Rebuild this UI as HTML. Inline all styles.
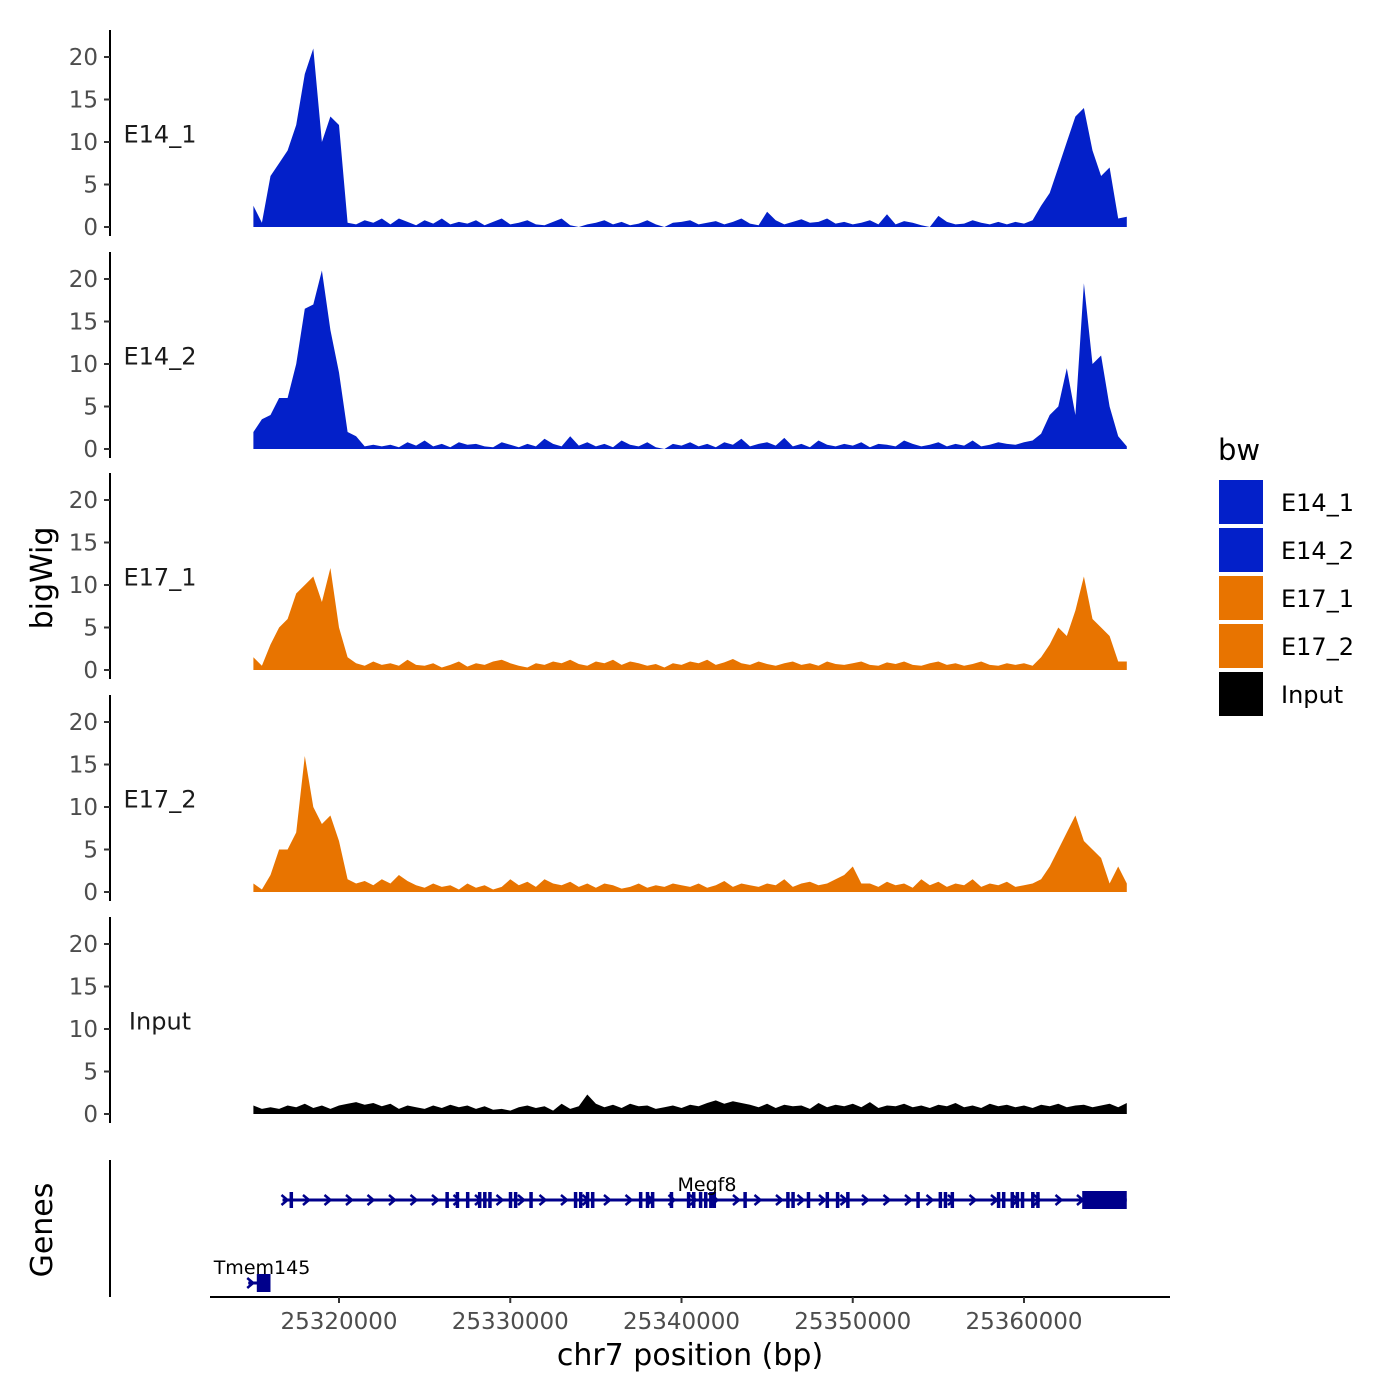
<!DOCTYPE html>
<html><head><meta charset="utf-8"><style>
body{margin:0;background:#fff}
svg{display:block;font-family:"DejaVu Sans","Liberation Sans",sans-serif}
</style></head><body>
<svg id="chart" width="1400" height="1400" viewBox="0 0 1400 1400" xmlns="http://www.w3.org/2000/svg">
<rect width="1400" height="1400" fill="#fff"/>
<g id="tracks"></g>
<g id="genes"></g>
<text x="52" y="578" font-size="30" text-anchor="middle" transform="rotate(-90 52 578)">bigWig</text>
<text x="52" y="1230" font-size="30" text-anchor="middle" transform="rotate(-90 52 1230)">Genes</text>
<text x="690" y="1365" font-size="30" text-anchor="middle">chr7 position (bp)</text>
<g id="legend">
<text x="1218" y="460" font-size="29">bw</text>
</g>
</svg>
<script>
const NS="http://www.w3.org/2000/svg";
const trackNames=["E14_1","E14_2","E17_1","E17_2","Input"];
const trackColors=["#0320C9","#0320C9","#E87400","#E87400","#000000"];
const binStartKb=25315.0;
const binSizeKb=0.5;
const yTicks=[0,5,10,15,20];
const xTicks=[25320000,25330000,25340000,25350000,25360000];
const e14_1=[2.5,0.5,6,7.5,9,12,18,21,10,13,
12,0.5,0.3,0.8,0.5,1,0.3,1,0.6,0.2,
0.8,0.4,1,0.3,0.6,0.4,0.8,0.2,0.6,1,
0.3,0.5,0.8,0.3,0.2,0.6,1,0.2,0,0.3,
0.5,0.8,0.3,0.6,0.2,0.4,0.8,0.3,0,0.5,
0.6,0.8,0.3,0.5,0.7,0.3,0.6,1,0.4,0.2,
1.8,0.8,0.3,0.6,0.9,0.5,0.6,1,0.4,0.6,
0.3,0.5,0.8,0.3,1.5,0.3,0.7,0.5,0.2,0,
1.3,0.6,0.3,0.4,0.8,0.5,0.3,0.6,0.3,0.6,
0.4,0.8,2.5,4,7,10,13,14,9,6,
7,1,1.2];
const e14_2=[2,3.5,4,6,6,10,16.5,17,21,14,
9,2,1.5,0.3,0.5,0.3,0.5,0.2,0.8,0.4,
1,0.3,0.6,0.2,0.8,0.5,0.6,0.3,0.2,0.8,
0.5,0.2,0.6,0.3,1.2,0.6,0.3,1.5,0.4,0.8,
0.3,0.6,0.2,1,0.5,0.3,0.8,0.2,0,0.6,
0.4,0.8,0.3,0.6,0.2,0.8,0.5,1.2,0.3,0.6,
0.8,0.4,1.3,0.3,0.6,0.2,1,0.5,0.3,0.6,
0.4,0.8,0.2,0.6,0.5,0.3,1,0.6,0.3,0.5,
0.8,0.3,0.6,0.4,1,0.3,0.5,0.8,0.6,0.5,
0.8,1,1.8,4,5,9.5,4,19.5,10,11,
5,1.5,0.3];
const e17_1=[1.5,0.5,3,5,6,9,10,11,8,12,
5,1.5,0.8,0.5,1,0.6,0.8,0.5,1.2,0.6,
0.5,0.8,0.3,0.6,1,0.4,0.8,0.6,1,1.2,
0.8,0.5,0.3,0.8,0.6,1,0.8,1.2,0.7,0.5,
1,0.8,1.2,0.6,1,0.8,0.5,0.7,0.3,0.8,
0.6,1,0.8,1.2,0.6,0.9,1.3,0.8,0.6,1,
0.7,0.5,0.8,1,0.6,0.8,0.5,1,0.7,0.6,
0.8,1,0.6,0.5,0.9,0.7,1,0.6,0.5,0.8,
1,0.6,0.8,0.5,0.7,1,0.6,0.5,0.8,0.6,
0.8,0.5,1.5,3,5,4,7,11,6,5,
4,1,1];
const e17_2=[1,0.3,2,5,5,7,16,10,8,9,
6,1.5,1,1.3,0.8,1.5,1,2,1.3,0.8,
0.5,1,0.6,0.8,0.3,1,0.5,0.8,0.3,0.6,
1.5,0.8,1.2,0.6,1.5,1,0.8,1.2,0.6,1,
0.5,1,0.8,0.4,0.6,1,0.5,0.8,0.6,1,
0.8,0.6,1,0.5,0.8,1.3,0.6,1,0.8,0.6,
1,0.8,1.5,0.6,1,1.2,0.8,1,1.5,2,
3,1,1,0.6,1.2,0.8,1,0.5,1.5,0.8,
1.2,0.6,1,0.8,1.5,0.6,1,0.8,1.2,0.6,
0.8,1,1.5,3,5,7,9,6,5,4,
1,3,1];
const inputTrack=[1,0.6,0.8,0.6,1,0.8,1.2,0.7,1,0.6,
1,1.2,1.4,1.1,1.3,0.9,1.2,0.6,1,0.8,
0.6,1,0.7,1.1,0.8,1,0.6,0.9,0.5,0.6,
0.4,0.8,1,0.7,0.9,0.4,1.2,0.6,0.9,2.3,
1.2,0.8,1.1,0.7,1.2,0.9,1,0.6,0.8,1,
0.7,1.1,0.9,1.3,1.6,1.2,1.5,1.3,1.1,0.8,
1.2,0.7,1.1,0.9,1,0.6,1.3,0.8,1.1,0.9,
1.2,0.8,1.4,0.7,1,0.9,1.2,0.8,1,0.7,
1.1,0.9,1.3,0.8,1,0.7,1.2,0.9,1.1,0.8,
1,0.7,1.1,0.9,1.2,0.8,1,1.1,0.8,1,
1.2,0.8,1.3];
const trackValues=[e14_1,e14_2,e17_1,e17_2,inputTrack];
// genes (kb)
const megf8Start=25316.7, megf8End=25366.0;
const megf8Exons=[25317.2,25326.3,25326.9,25327.5,25328.2,25328.5,25328.8,25330.0,25330.3,25331.2,25333.8,25334.1,25334.5,25334.8,25337.6,25338.0,25338.3,25339.4,25340.4,25340.7,25341.1,25341.4,25341.7,25341.9,25343.7,25346.2,25346.5,25347.4,25348.5,25349.1,25349.7,25353.8,25355.1,25355.4,25355.8,25358.5,25358.8,25359.3,25359.6,25359.9,25360.5,25360.8];
const megf8LastExon=[25363.4,25366.0];
const tmemStart=25314.7, tmemEnd=25316.0, tmemExon=[25315.2,25316.0];

function xs(bp){return 339+(bp-25320000)*0.017125;}
function xk(kb){return xs(kb*1000);}
const bases=[227,449,670,892,1114];
function ys(v,i){return bases[i]-v*8.5;}
function mk(tag,attrs,parent){const e=document.createElementNS(NS,tag);for(const k in attrs)e.setAttribute(k,attrs[k]);parent.appendChild(e);return e;}
const tracks=document.getElementById('tracks');
trackNames.forEach((nm,i)=>{
  const g=mk('g',{},tracks);
  
  
  const vals=trackValues[i];
  let d='M'+xk(binStartKb).toFixed(1)+','+ys(0,i);
  vals.forEach((v,j)=>{d+=' L'+xk(binStartKb+j*binSizeKb).toFixed(1)+','+ys(v,i).toFixed(1);});
  d+=' L'+xk(binStartKb+(vals.length-1)*binSizeKb).toFixed(1)+','+ys(0,i)+' Z';
  const p=mk('path',{d:d,fill:trackColors[i]},g);
  
  
  const ax=mk('line',{x1:110,x2:110,y1:bases[i]-197,y2:bases[i]+9,stroke:'#000','stroke-width':2},g);
  
  
  yTicks.forEach(t=>{
    mk('line',{x1:104,x2:110,y1:ys(t,i),y2:ys(t,i),stroke:'#333','stroke-width':2},g);
    const tx=mk('text',{x:98,y:ys(t,i)+8,'font-size':23,'text-anchor':'end',fill:'#4d4d4d'},g);
    tx.textContent=t;
    
    
  });
  const lb=mk('text',{x:160,y:ys(11,i)+9,'font-size':24,'text-anchor':'middle',fill:'#1a1a1a'},g);
  lb.textContent=nm;
  
  
});
// genes
const gg=document.getElementById('genes');
const ga=mk('line',{x1:110,x2:110,y1:1160,y2:1297,stroke:'#000','stroke-width':2},gg);


const xa=mk('line',{x1:210,x2:1170,y1:1297,y2:1297,stroke:'#000','stroke-width':2},gg);


xTicks.forEach(t=>{
  mk('line',{x1:xs(t),x2:xs(t),y1:1297,y2:1303,stroke:'#333','stroke-width':2},gg);
  const tx=mk('text',{x:xs(t),y:1329,'font-size':23,'text-anchor':'middle',fill:'#4d4d4d'},gg);
  tx.textContent=t;
  
  
});
function drawGene(name,s,e,exons,last,y,labelX,labelY){
  const g=mk('g',{},gg);
  
  
  mk('line',{x1:xk(s),x2:xk(e),y1:y,y2:y,stroke:'#00008B','stroke-width':3},g);
  for(let x=xk(s)+2;x<xk(e)-6;x+=21.5){
    mk('path',{d:`M${x-3},${y-5} L${x+3},${y} L${x-3},${y+5}`,fill:'none',stroke:'#00008B','stroke-width':2.5},g);
  }
  exons.forEach(ex=>{mk('rect',{x:xk(ex)-1.5,y:y-8,width:3.5,height:16,fill:'#00008B'},g);});
  if(last) mk('rect',{x:xk(last[0]),y:y-9,width:xk(last[1])-xk(last[0]),height:18,fill:'#00008B'},g);
  const t=mk('text',{x:labelX,y:labelY,'font-size':19,'text-anchor':'middle',fill:'#000'},g);
  t.textContent=name;
  
  
}
drawGene('Megf8',megf8Start,megf8End,megf8Exons,megf8LastExon,1200,707,1191);
drawGene('Tmem145',tmemStart,tmemEnd,[],tmemExon,1283,262,1274);
// legend
const lg=document.getElementById('legend');
trackNames.forEach((nm,i)=>{
  const y=480+i*48;
  const r=mk('rect',{x:1219,y:y,width:44,height:44,fill:trackColors[i]},lg);
  
  
  const t=mk('text',{x:1281,y:y+31,'font-size':24,fill:'#000'},lg);
  t.textContent=nm;
  
  
});
</script>
</body></html>
